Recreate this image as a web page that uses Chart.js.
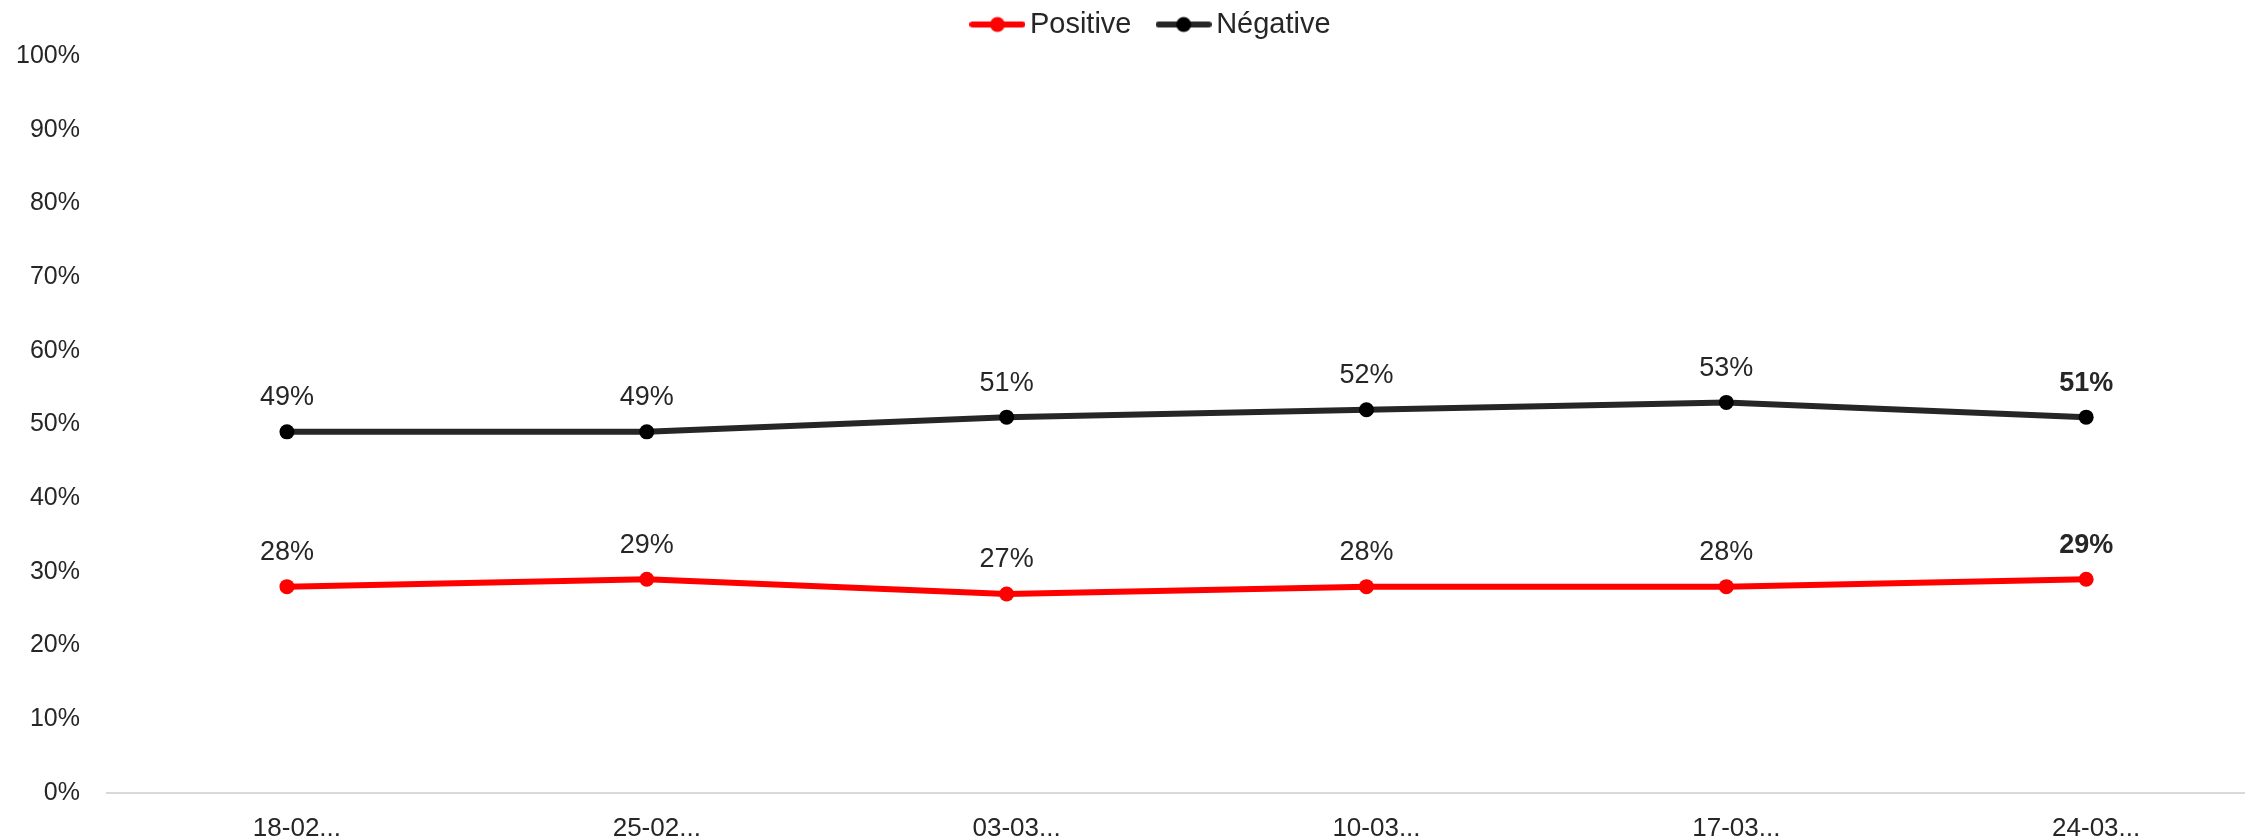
<!DOCTYPE html>
<html>
<head>
<meta charset="utf-8">
<script src="https://cdn.jsdelivr.net/npm/chart.js@4"></script>
<style>
html,body{margin:0;padding:0;background:#fff;overflow:hidden;}
#wrap{width:2252px;height:840px;position:relative;}
</style>
</head>
<body>
<div id="wrap"><canvas id="c"></canvas></div>
<script>
const categories = ["18-02...", "25-02...", "03-03...", "10-03...", "17-03...", "24-03..."];
const positive = [28, 29, 27, 28, 28, 29];
const negative = [49, 49, 51, 52, 53, 51];
const seriesNames = ["Positive", "Négative"];
const yTicks = [0, 10, 20, 30, 40, 50, 60, 70, 80, 90, 100];

const FONT = '"Liberation Sans", Arial, sans-serif';
const TEXT = '#262626';

function legendMarker(lineColor, dotColor) {
  const c = document.createElement('canvas');
  c.width = 56; c.height = 18;
  const g = c.getContext('2d');
  g.strokeStyle = lineColor; g.lineWidth = 6; g.lineCap = 'round';
  g.beginPath(); g.moveTo(3, 9); g.lineTo(53, 9); g.stroke();
  g.fillStyle = dotColor;
  g.beginPath(); g.arc(28, 9, 7.5, 0, Math.PI * 2); g.fill();
  return c;
}
const markers = [legendMarker('#FF0000', '#FF0000'), legendMarker('#262626', '#000000')];

const toPts = arr => arr.map((v, i) => ({x: i, y: v}));

const dataLabels = {
  id: 'dataLabels',
  afterDatasetsDraw(chart) {
    const ctx = chart.ctx;
    ctx.save();
    ctx.fillStyle = TEXT;
    ctx.textAlign = 'center';
    ctx.textBaseline = 'middle';
    chart.data.datasets.forEach((ds, di) => {
      const meta = chart.getDatasetMeta(di);
      const vals = di === 0 ? positive : negative;
      meta.data.forEach((pt, i) => {
        const last = i === vals.length - 1;
        ctx.font = (last ? 'bold ' : '') + '27px ' + FONT;
        ctx.fillText(vals[i] + '%', pt.x, pt.y - 34);
      });
    });
    ctx.restore();
  }
};

const legendTweak = {
  id: 'legendTweak',
  beforeLayout(chart) {
    const lg = chart.legend;
    if (lg && !lg._patched) {
      const f = lg.fit.bind(lg);
      lg.fit = function () { f(); this.height += 7; };
      lg._patched = true;
    }
  },
  afterLayout(chart) {
    if (chart.legend) { chart.legend.left += 22; chart.legend.right += 22; }
  }
};

new Chart(document.getElementById('c'), {
  type: 'line',
  data: {
    datasets: [
      {
        label: seriesNames[0],
        data: toPts(positive),
        borderColor: '#FF0000',
        backgroundColor: '#FF0000',
        borderWidth: 6,
        pointRadius: 7.5,
        pointBackgroundColor: '#FF0000',
        pointBorderColor: '#FF0000',
        pointBorderWidth: 0,
        tension: 0
      },
      {
        label: seriesNames[1],
        data: toPts(negative),
        borderColor: '#262626',
        backgroundColor: '#000000',
        borderWidth: 6,
        pointRadius: 7.5,
        pointBackgroundColor: '#000000',
        pointBorderColor: '#000000',
        pointBorderWidth: 0,
        tension: 0
      }
    ]
  },
  options: {
    responsive: true,
    maintainAspectRatio: false,
    animation: false,
    layout: { padding: { left: 14, right: 0, top: 0, bottom: 0 } },
    plugins: {
      tooltip: { enabled: false },
      legend: {
        position: 'top',
        align: 'center',
        labels: {
          usePointStyle: true,
          pointStyleWidth: 36,
          padding: 10,
          color: TEXT,
          font: { family: FONT, size: 29 },
          generateLabels(chart) {
            return chart.data.datasets.map((ds, i) => ({
              text: i === 0 ? ds.label + '   ' : ds.label,
              pointStyle: markers[i],
              fillStyle: ds.borderColor,
              strokeStyle: ds.borderColor,
              lineWidth: 0,
              hidden: false,
              datasetIndex: i,
              fontColor: TEXT
            }));
          }
        }
      }
    },
    scales: {
      x: {
        type: 'linear',
        min: -0.5,
        max: 5.44,
        grid: { display: false, drawTicks: false },
        border: { display: true, color: '#d9d9d9', width: 2 },
        afterBuildTicks(scale) {
          scale.ticks = categories.map((_, i) => ({ value: i }));
        },
        afterFit(scale) { scale.height = 47; },
        ticks: {
          autoSkip: false,
          maxRotation: 0,
          padding: 20,
          labelOffset: 10,
          color: TEXT,
          font: { family: FONT, size: 26 },
          callback: v => categories[v]
        }
      },
      y: {
        min: 0,
        max: 100,
        grid: { display: false, drawTicks: false },
        border: { display: false },
        afterBuildTicks(scale) {
          scale.ticks = yTicks.map(v => ({ value: v }));
        },
        afterFit(scale) { scale.width = 93; },
        ticks: {
          padding: 27,
          color: TEXT,
          font: { family: FONT, size: 25 },
          callback: v => v + '%'
        }
      }
    }
  },
  plugins: [dataLabels, legendTweak]
});
</script>
</body>
</html>
